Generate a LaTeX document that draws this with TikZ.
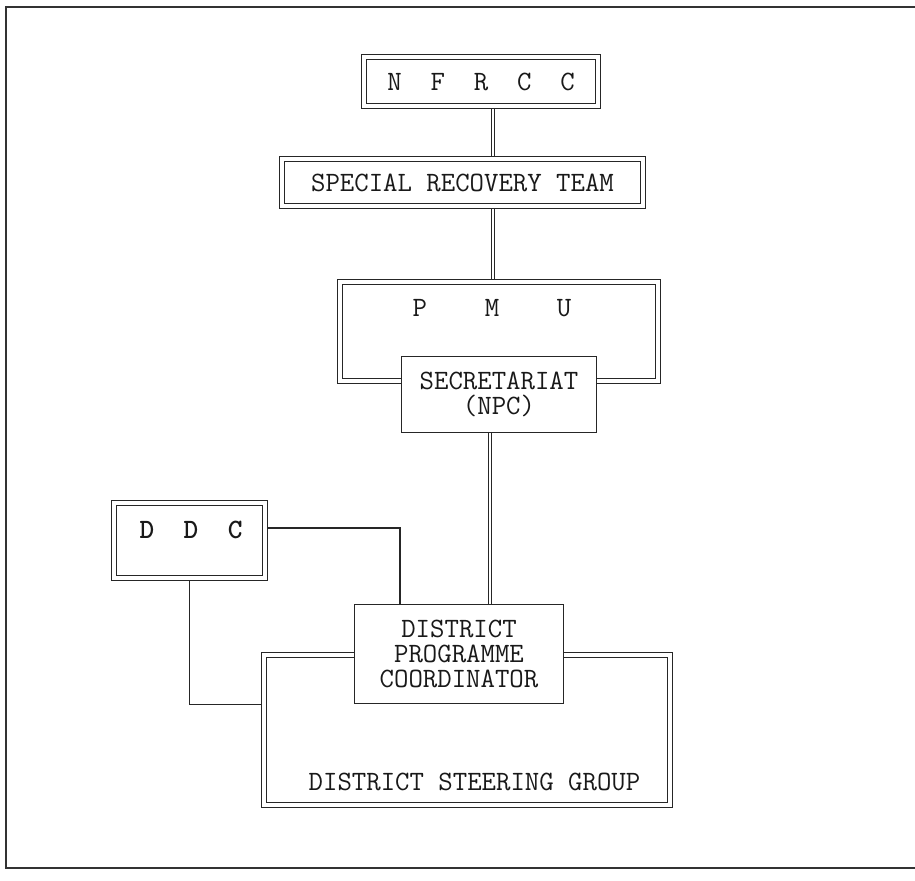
\documentclass[tikz,border=0pt]{standalone}
\usetikzlibrary{positioning, backgrounds}

\newcommand{\orgfont}{\ttfamily\fontsize{14}{12.5}\selectfont}

\tikzset{
  frame/.style={draw=black!80, line width=0.9pt},
  dbox/.style={draw=black!85, line width=0.6pt, double=white, double distance=1.8pt,
    fill=white, inner sep=0pt, text=black!90, font=\orgfont},
  sbox/.style={draw=black!85, line width=0.7pt, fill=white, inner sep=0pt,
    text=black!90, font=\orgfont},
  tag/.style={inner sep=0pt, text=black!90, font=\orgfont},
  dlink/.style={draw=black!85, line width=0.55pt, double=white, double distance=1.3pt},
  slink/.style={draw=black!85, line width=0.7pt}
}

\begin{document}
\begin{tikzpicture}[x=0.5pt, y=-0.5pt]
  \useasboundingbox (0,0) rectangle (915,880);
  % outer frame, open on the right
  \draw[frame] (915,7) -- (6,7) -- (6,868) -- (915,868);

  % national level
  \node[dbox, minimum width=117pt, minimum height=24.5pt] (nfrcc) at (481,81.5) {N~~F~~R~~C~~C};
  \node[dbox, minimum width=180.5pt, minimum height=23.5pt] (srt) at (462.5,182.5) {SPECIAL RECOVERY TEAM};
  \node[dbox, minimum width=159pt, minimum height=49.5pt] (pmu) at (499,331.5) {};
  \node[tag] (pmutext) at (492,308) {P~~~~M~~~~U};
  \node[sbox, minimum width=97.5pt, minimum height=38pt, align=center] (sec) at (499,394.5) {SECRETARIAT\\(NPC)};

  % district level
  \node[dbox, minimum width=75.5pt, minimum height=37.5pt] (ddc) at (189.5,540.5) {};
  \node[tag] (ddctext) at (191,530) {\bfseries D~~D~~C};
  \node[dbox, minimum width=203pt, minimum height=75pt] (dsg) at (467,730) {};
  \node[tag] (dsgtext) at (474.5,782) {DISTRICT STEERING GROUP};
  \node[sbox, minimum width=104.5pt, minimum height=49.5pt, align=center] (dpc) at (459,654) {DISTRICT\\PROGRAMME\\COORDINATOR};

  % connectors, behind the boxes
  \coordinate (spine) at (493,0);
  \coordinate (spinelow) at (490,0);
  \coordinate (ddcrow) at (400,528);
  \begin{scope}[on background layer]
    \draw[dlink] (nfrcc.south -| spine) -- (srt.north -| spine);
    \draw[dlink] (srt.south -| spine) -- (pmu.north -| spine);
    \draw[dlink] (sec.south -| spinelow) -- (dpc.north -| spinelow);
    \draw[slink] (ddc.east |- ddcrow) -| (dpc.north -| ddcrow);
    \draw[slink] (ddc.south) |- (dsg.west |- dpc.south);
  \end{scope}
\end{tikzpicture}
\end{document}
